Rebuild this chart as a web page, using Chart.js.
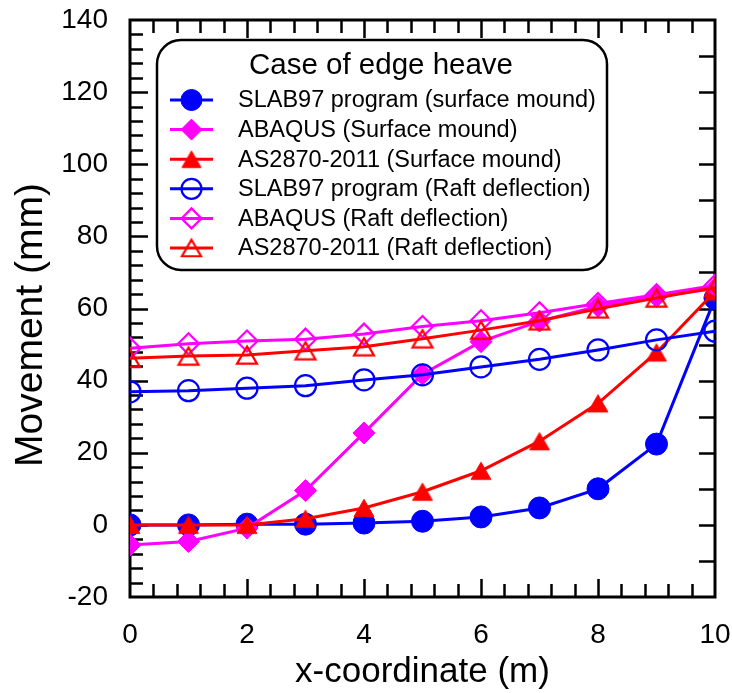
<!DOCTYPE html>
<html>
<head>
<meta charset="utf-8">
<title>Case of edge heave</title>
<script src="https://cdn.jsdelivr.net/npm/chart.js"></script>
<style>
  html, body { margin: 0; padding: 0; background: #fff; }
  #wrap { width: 732px; height: 693px; }
</style>
</head>
<body>
<div id="wrap"><canvas id="c" width="732" height="693"></canvas></div>
<script>
// Distance from slab edge (m)
const xCoord = [0, 1, 2, 3, 4, 5, 6, 7, 8, 9, 10];

// Movement (mm) for each method
const slabMound   = [0, 0, 0.2, 0.2, 0.5, 1.0, 2.2, 4.7, 10.0, 22.4, 62.8];
const abaqusMound = [-5.6, -4.6, -0.9, 9.5, 25.5, 41.8, 50.8, 56.5, 60.6, 63.3, 65.5];
const asMound     = [0, 0, 0, 1.7, 4.7, 9.2, 15.0, 23.2, 33.7, 47.8, 64.7];
const slabRaft    = [36.9, 37.2, 37.9, 38.6, 40.2, 41.6, 43.8, 45.9, 48.5, 51.3, 53.7];
const abaqusRaft  = [49.0, 50.2, 51.0, 51.5, 52.9, 55.0, 56.6, 58.8, 61.4, 63.8, 66.4];
const asRaft      = [46.2, 46.8, 47.1, 48.3, 49.4, 51.6, 54.0, 56.6, 59.9, 62.9, 65.8];

const seriesLabels = [
  'SLAB97 program (surface mound)',
  'ABAQUS (Surface mound)',
  'AS2870-2011 (Surface mound)',
  'SLAB97 program (Raft deflection)',
  'ABAQUS (Raft deflection)',
  'AS2870-2011 (Raft deflection)'
];
const legendTitle = 'Case of edge heave';
const xTitle = 'x-coordinate (m)';
const yTitle = 'Movement (mm)';

// Axis ranges and labelled tick steps
const xMin = 0, xMax = 10, xStep = 2;
const yMin = -20, yMax = 140, yStep = 20;

const FONT = "'Liberation Sans', Arial, Helvetica, sans-serif";
const BLUE = '#0000ff', MAGENTA = '#ff00ff', RED = '#ff0000';
const NONE = 'rgba(0,0,0,0)';

function pts(ys) { return ys.map((v, i) => ({ x: xCoord[i], y: v })); }

// Triangle marker centred on its bounding box (not its circumcentre)
function triangleImage(color, fill, r, lw) {
  const half = r * Math.sqrt(3) / 2;
  const w = Math.ceil(2 * half + lw + 4), h = Math.ceil(1.5 * r + lw + 4);
  const c = document.createElement('canvas');
  c.width = w % 2 ? w + 1 : w; c.height = h % 2 ? h + 1 : h;
  const g = c.getContext('2d');
  const cx = c.width / 2, cy = c.height / 2;
  g.beginPath();
  g.moveTo(cx, cy - 0.75 * r);
  g.lineTo(cx + half, cy + 0.75 * r);
  g.lineTo(cx - half, cy + 0.75 * r);
  g.closePath();
  g.lineJoin = 'miter';
  g.strokeStyle = color; g.lineWidth = lw;
  if (fill) { g.fillStyle = color; g.fill(); }
  g.stroke();
  return c;
}

const styles = [
  { color: BLUE,    style: 'circle',   fill: true,  r: 11 },
  { color: MAGENTA, style: 'rectRot',  fill: true,  r: 11 },
  { color: RED,     style: 'triangle', fill: true,  r: 11.5 },
  { color: BLUE,    style: 'circle',   fill: false, r: 10.5 },
  { color: MAGENTA, style: 'rectRot',  fill: false, r: 10.5 },
  { color: RED,     style: 'triangle', fill: false, r: 11.5 }
];
styles.forEach(s => {
  s.lw = s.fill ? 1 : 2.2;
  if (s.style === 'triangle') {
    s.image = triangleImage(s.color, s.fill, s.r, s.lw);
    s.legendImage = triangleImage(s.color, s.fill, s.r - 0.5, s.lw);
  }
});
const values = [slabMound, abaqusMound, asMound, slabRaft, abaqusRaft, asRaft];

const datasets = values.map((ys, i) => {
  const s = styles[i];
  return {
    label: seriesLabels[i],
    data: pts(ys),
    borderColor: s.color,
    backgroundColor: s.color,
    borderWidth: 3,
    pointStyle: s.image || s.style,
    pointRadius: s.r,
    pointBackgroundColor: s.fill ? s.color : NONE,
    pointBorderColor: s.color,
    pointBorderWidth: s.lw,
    tension: 0,
    order: 10 - i
  };
});

// Marker for the legend rows
function marker(ctx, s, x, y) {
  ctx.save();
  if (s.legendImage) {
    ctx.drawImage(s.legendImage, x - s.legendImage.width / 2, y - s.legendImage.height / 2);
    ctx.restore();
    return;
  }
  ctx.beginPath();
  const r = s.r - 0.5;
  if (s.style === 'circle') {
    ctx.arc(x, y, r, 0, Math.PI * 2);
  } else {
    ctx.moveTo(x, y - r); ctx.lineTo(x + r, y); ctx.lineTo(x, y + r); ctx.lineTo(x - r, y);
  }
  ctx.closePath();
  ctx.strokeStyle = s.color;
  ctx.lineWidth = s.lw;
  if (s.fill) { ctx.fillStyle = s.color; ctx.fill(); }
  ctx.stroke();
  ctx.restore();
}

// Box frame plus inward ticks on all four sides
const frameTicks = {
  id: 'frameTicks',
  beforeDatasetsDraw(chart) {
    const { ctx, chartArea: a, scales: { x, y } } = chart;
    ctx.save();
    ctx.strokeStyle = '#000';
    ctx.lineWidth = 2.5;
    ctx.beginPath();
    // bottom & top: minor every 0.4, major every 2
    for (let i = 1; i < 25; i++) {
      const px = Math.round(x.getPixelForValue(i * 0.4)) + 0.5;
      const len = i % 5 === 0 ? 18 : 13;
      ctx.moveTo(px, a.bottom); ctx.lineTo(px, a.bottom - len);
      ctx.moveTo(px, a.top); ctx.lineTo(px, a.top + len);
    }
    // left: minor every 4, major every 20
    for (let i = 1; i < 40; i++) {
      const py = Math.round(y.getPixelForValue(yMin + i * 4)) + 0.5;
      const len = i % 5 === 0 ? 18 : 13;
      ctx.moveTo(a.left, py); ctx.lineTo(a.left + len, py);
    }
    // right: every 10
    for (let i = 1; i < 16; i++) {
      const py = Math.round(y.getPixelForValue(yMin + i * 10)) + 0.5;
      ctx.moveTo(a.right, py); ctx.lineTo(a.right - 16, py);
    }
    ctx.stroke();
    ctx.lineWidth = 3;
    ctx.strokeRect(a.left, a.top, a.right - a.left, a.bottom - a.top);

    // vertical axis title
    ctx.translate(31, 325);
    ctx.rotate(-Math.PI / 2);
    ctx.fillStyle = '#000';
    ctx.textAlign = 'center';
    ctx.textBaseline = 'middle';
    ctx.font = '39px ' + FONT;
    ctx.fillText(yTitle, 0, 0);
    ctx.restore();
  }
};

// Rounded legend box with title and line+marker samples
const legendBox = {
  id: 'legendBox',
  afterDraw(chart) {
    const ctx = chart.ctx;
    const L = 157, T = 40, W = 450, H = 230, R = 24;
    ctx.save();
    ctx.beginPath();
    ctx.moveTo(L + R, T);
    ctx.arcTo(L + W, T, L + W, T + H, R);
    ctx.arcTo(L + W, T + H, L, T + H, R);
    ctx.arcTo(L, T + H, L, T, R);
    ctx.arcTo(L, T, L + W, T, R);
    ctx.closePath();
    ctx.lineWidth = 2.5;
    ctx.strokeStyle = '#000';
    ctx.stroke();

    ctx.fillStyle = '#000';
    ctx.textBaseline = 'middle';
    ctx.textAlign = 'center';
    ctx.font = '29.5px ' + FONT;
    ctx.fillText(legendTitle, 381, 66);

    ctx.textAlign = 'left';
    ctx.font = '23.5px ' + FONT;
    for (let i = 0; i < seriesLabels.length; i++) {
      const cy = 100 + i * 29.6;
      const s = styles[i];
      ctx.beginPath();
      ctx.moveTo(170, cy); ctx.lineTo(213, cy);
      ctx.strokeStyle = s.color; ctx.lineWidth = 3;
      ctx.stroke();
      marker(ctx, s, 191.5, cy);
      ctx.fillStyle = '#000';
      ctx.fillText(seriesLabels[i], 238, cy + 1);
    }
    ctx.restore();
  }
};

new Chart(document.getElementById('c'), {
  type: 'line',
  data: { datasets },
  plugins: [frameTicks, legendBox],
  options: {
    responsive: false,
    animation: false,
    devicePixelRatio: 1,
    layout: { padding: { left: 0, top: 20, right: 17, bottom: 0 } },
    plugins: { legend: { display: false }, tooltip: { enabled: false } },
    scales: {
      x: {
        type: 'linear', min: xMin, max: xMax,
        grid: { display: false, drawTicks: false, tickLength: 0 },
        border: { display: false },
        ticks: { stepSize: xStep, padding: 21, color: '#000', font: { family: FONT, size: 28 } },
        title: { display: true, text: xTitle, color: '#000',
                 font: { family: FONT, size: 35 }, padding: { top: 0, bottom: 0 } },
        afterFit(s) {
          s.height = 96;
          s.paddingLeft = 0; s.paddingRight = 0;
        }
      },
      y: {
        type: 'linear', min: yMin, max: yMax,
        grid: { display: false, drawTicks: false, tickLength: 0 },
        border: { display: false },
        ticks: { stepSize: yStep, padding: 22, color: '#000', font: { family: FONT, size: 28 } },
        title: { display: false },
        afterFit(s) {
          s.width = 130;
          s.paddingTop = 0; s.paddingBottom = 0;
        }
      }
    }
  }
});
</script>
</body>
</html>
